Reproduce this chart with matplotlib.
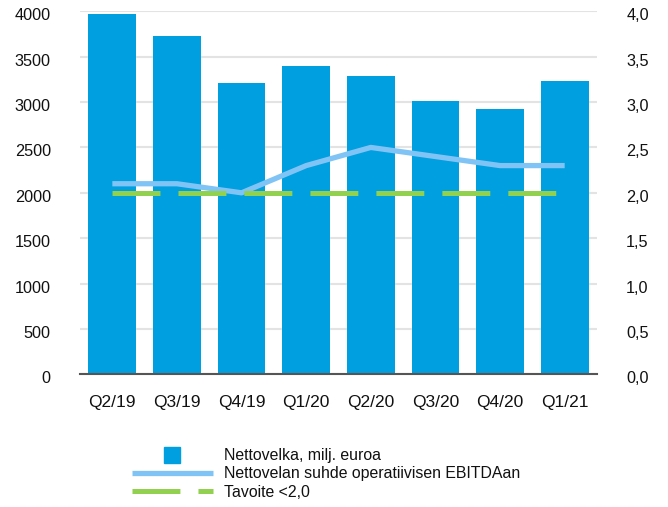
import matplotlib
matplotlib.use("Agg")
import matplotlib.pyplot as plt
from matplotlib.lines import Line2D
from matplotlib.ticker import FuncFormatter
from matplotlib.transforms import ScaledTranslation
import numpy as np

plt.rcParams['font.family'] = ['Liberation Sans', 'DejaVu Sans']
plt.rcParams['lines.scale_dashes'] = False

# data
quarters = ["Q2/19", "Q3/19", "Q4/19", "Q1/20", "Q2/20", "Q3/20", "Q4/20", "Q1/21"]
net_debt = [3970, 3730, 3210, 3400, 3290, 3010, 2920, 3230]
ratio = [2.1, 2.1, 2.0, 2.3, 2.5, 2.4, 2.3, 2.3]
target = [2.0] * len(quarters)

bar_col = "#009FE0"
line_col = "#80C4F6"
green = "#92D050"
dash = (34.5, 13)
txt = "#111111"

fig = plt.figure(figsize=(6.68, 5.07), dpi=100)
ax = fig.add_axes([0.1198, 0.2617, 0.7739, 0.716])
ax2 = ax.twinx()

x = np.arange(len(quarters))
ax.bar(x, net_debt, width=0.74, color=bar_col, zorder=2)
ax.set_xlim(-0.5, len(quarters) - 0.5)
ax.set_ylim(0, 4000)
ax.set_yticks(range(0, 4001, 500))
ax.grid(axis='y', color="#E3E3E3", linewidth=1.5, zorder=0)
ax.set_axisbelow(True)
ax.set_xticks(x)
ax.set_xticklabels(quarters)

ax2.plot(x, ratio, color=line_col, linewidth=3.8, solid_capstyle='butt', zorder=3)
ax2.plot(x, target, color=green, linewidth=3.6, dashes=dash, dash_capstyle='butt', zorder=3)
ax2.set_ylim(0, 4.0)
ax2.set_yticks(np.arange(0, 4.01, 0.5))
ax2.yaxis.set_major_formatter(FuncFormatter(lambda v, p: f"{v:.1f}".replace(".", ",")))

for a in (ax, ax2):
    for s in ("top", "left", "right", "bottom"):
        a.spines[s].set_visible(False)
    a.tick_params(length=0, labelsize=11.7, colors=txt)
ax.spines["bottom"].set_visible(True)
ax.spines["bottom"].set_color("#555555")
ax.spines["bottom"].set_linewidth(1.5)
ax.tick_params(axis='y', pad=21)
ax.tick_params(axis='x', pad=15, labelsize=12.5)
ax2.tick_params(axis='y', pad=21)

# y labels sit a little below their gridlines in the original
shift = ScaledTranslation(0, -3 / 100, fig.dpi_scale_trans)
for lab in ax.get_yticklabels() + ax2.get_yticklabels():
    lab.set_transform(lab.get_transform() + shift)

handles = [
    Line2D([], [], marker='s', ls='', markersize=12, color=bar_col),
    Line2D([], [], color=line_col, linewidth=3.8, solid_capstyle='butt'),
    Line2D([], [], color=green, linewidth=3.6, dashes=dash, dash_capstyle='butt'),
]
labels = ["Nettovelka, milj. euroa",
          "Nettovelan suhde operatiivisen EBITDAan",
          "Tavoite <2,0"]
leg = fig.legend(handles, labels, loc='upper left', bbox_to_anchor=(0.1976, 0.116),
                 frameon=False, fontsize=11.4, handlelength=5.1, handletextpad=0.7,
                 labelspacing=0.2, borderpad=0, borderaxespad=0)
for t in leg.get_texts():
    t.set_color(txt)

fig.savefig("out.png", dpi=100)
